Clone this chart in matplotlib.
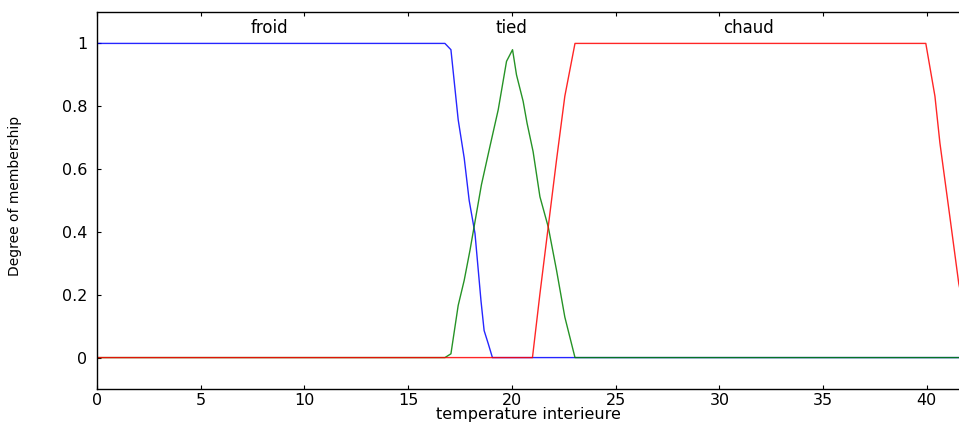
import matplotlib
matplotlib.use('Agg')

import matplotlib.pyplot as plt

# membership functions
froid_x = [0, 16.77, 17.06, 17.41, 17.70, 17.94, 18.22, 18.51, 18.66, 18.86, 19.06, 42.0]
froid_y = [1, 1, 0.98, 0.757, 0.635, 0.50, 0.395, 0.18, 0.086, 0.044, 0, 0]

tied_x = [0, 16.77, 17.06, 17.41, 17.70, 17.98, 18.53, 18.94, 19.34, 19.74, 20.03,
          20.22, 20.54, 20.73, 21.02, 21.35, 21.75, 22.15, 22.55, 23.04, 42.0]
tied_y = [0, 0, 0.012, 0.166, 0.246, 0.342, 0.55, 0.672, 0.789, 0.943, 0.98,
          0.90, 0.816, 0.746, 0.656, 0.512, 0.416, 0.278, 0.129, 0, 0]

chaud_x = [0, 20.99, 21.35, 21.75, 22.15, 22.55, 23.04, 39.95, 40.39, 40.63, 41.11, 41.54, 42.3]
chaud_y = [0, 0, 0.203, 0.416, 0.629, 0.832, 1, 1, 0.832, 0.683, 0.448, 0.235, 0]

mf_names = ["froid", "tied", "chaud"]
mf_label_x = [8.3, 20.0, 31.4]

x_ticks = [0, 5, 10, 15, 20, 25, 30, 35, 40]
y_ticks = [0, 0.2, 0.4, 0.6, 0.8, 1]

plt.rcParams['font.family'] = ['DejaVu Sans']

fig = plt.figure(figsize=(9.59, 4.28), dpi=100)
ax = fig.add_axes([97 / 959, 39 / 428, 1 - 97 / 959, 377 / 428])

ax.plot(froid_x, froid_y, color="#0000ff", lw=1.0, alpha=0.85)
ax.plot(tied_x, tied_y, color="#008000", lw=1.0, alpha=0.85)
ax.plot(chaud_x, chaud_y, color="#ff0000", lw=1.0, alpha=0.85)

for name, xc in zip(mf_names, mf_label_x):
    ax.text(xc, 1.05, name, ha="center", va="center", fontsize=12)

ax.set_xlim(0, 41.55)
ax.set_ylim(-0.1, 1.1)
ax.set_xticks(x_ticks)
ax.set_yticks(y_ticks)
ax.set_yticklabels(["0", "0.2", "0.4", "0.6", "0.8", "1"])

ax.tick_params(direction="in", length=3, width=0.8, labelsize=11.5, top=True)
ax.tick_params(axis="y", pad=7)
ax.tick_params(axis="x", pad=3)
ax.spines["right"].set_visible(False)
for s in ["left", "bottom", "top"]:
    ax.spines[s].set_linewidth(1.0)

ax.set_xlabel("temperature interieure", fontsize=11.5, labelpad=-1)
fig.text(15 / 959, 1 - 196 / 428, "Degree of membership", rotation=90,
         ha="center", va="center", fontsize=10)

fig.savefig("out.png", dpi=100)
plt.close()
